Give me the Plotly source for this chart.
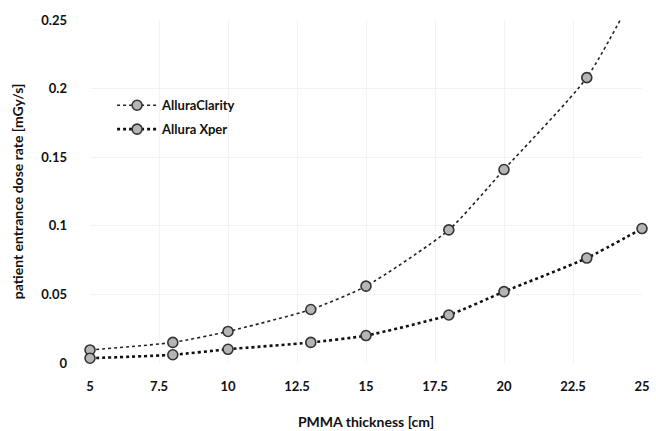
import plotly.graph_objects as go

thickness = [5, 8, 10, 13, 15, 18, 20, 23, 25]
clarity = [0.0095, 0.015, 0.023, 0.039, 0.056, 0.097, 0.141, 0.208, 0.28]
xper = [0.0035, 0.006, 0.010, 0.015, 0.020, 0.035, 0.052, 0.0765, 0.098]

x_ticks = [5, 7.5, 10, 12.5, 15, 17.5, 20, 22.5, 25]
x_tick_labels = ["5", "7.5", "10", "12.5", "15", "17.5", "20", "22.5", "25"]
y_ticks = [0, 0.05, 0.1, 0.15, 0.2, 0.25]
y_tick_labels = ["0", "0.05", "0.1", "0.15", "0.2", "0.25"]

FONT = "Lato"
marker_style = dict(symbol="circle", size=10, color="#b5b5b5",
                    line=dict(color="#333333", width=1.6))

fig = go.Figure()
fig.add_trace(go.Scatter(
    x=thickness, y=clarity, name="AlluraClarity", mode="lines+markers",
    legendgroup="a",
    line=dict(color="#222222", width=1.6, dash="dot", shape="spline", smoothing=0.6),
    marker=marker_style, cliponaxis=False,
))
fig.add_trace(go.Scatter(
    x=thickness, y=xper, name="Allura Xper", mode="lines+markers",
    legendgroup="b",
    line=dict(color="#111111", width=2.6, dash="dot", shape="spline", smoothing=0.6),
    marker=marker_style, cliponaxis=False,
))

fig.update_layout(
    width=656, height=431,
    margin=dict(l=90, r=14, t=20, b=68),
    paper_bgcolor="white", plot_bgcolor="white",
    font=dict(family=FONT, size=13, color="#111111", weight="bold"),
    showlegend=True,
    legend=dict(x=0.04, y=0.795, xanchor="left", yanchor="top",
                bgcolor="rgba(0,0,0,0)", font=dict(size=13, family=FONT, weight="bold"),
                traceorder="grouped", tracegroupgap=4, itemwidth=40),
    xaxis=dict(
        range=[5, 25], tickmode="array", tickvals=x_ticks, ticktext=x_tick_labels,
        showgrid=True, gridcolor="#f3f3f3", gridwidth=1, zeroline=False, showline=False,
        ticks="", ticklabelstandoff=14, automargin=False,
        title=dict(text="PMMA thickness [cm]", standoff=24,
                   font=dict(size=14, family=FONT, weight="bold")),
    ),
    yaxis=dict(
        range=[0, 0.25], tickmode="array", tickvals=y_ticks, ticktext=y_tick_labels,
        showgrid=True, gridcolor="#f3f3f3", gridwidth=1, zeroline=False, showline=False,
        ticks="", ticklabelstandoff=22, automargin=False,
        title=dict(text="patient entrance dose rate [mGy/s]", standoff=14,
                   font=dict(size=14, family=FONT, weight="bold")),
    ),
)

fig.write_html("out.html", config={"displayModeBar": False},
               post_script="document.body.style.margin='0px';")
